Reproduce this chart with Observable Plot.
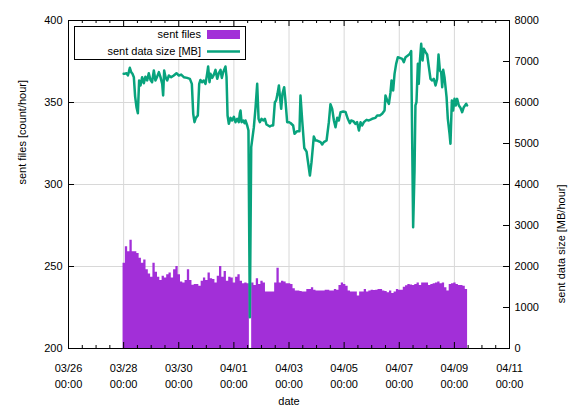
<!DOCTYPE html>
<html>
<head>
<meta charset="utf-8">
<script src="https://cdn.jsdelivr.net/npm/d3@7"></script>
<script src="https://cdn.jsdelivr.net/npm/@observablehq/plot@0.6"></script>
<style>
  html, body { margin: 0; padding: 0; background: white; }
</style>
</head>
<body>
<div id="chart"></div>
<script>
// ---- data -------------------------------------------------------------
// sent files per hour, 2-hour bins starting 2015-03-27 23:30 UTC (null = no data)
const barStart = "2015-03-27T23:30:00Z";
const barStepHours = 2;
const sentFiles = [
  252, 262, 259, 266, 259, 259, 258, 255, 252, 254,
  248, 245.5, 243.5, 252, 246.5, 243.5, 241.5, 244, 243, 245,
  246, 243, 248, 250, 245, 240.5, 240, 241.5, 248, 241.5,
  238.5, 239, 239, 238, 241, 243, 241.5, 246, 242.5, 242,
  240, 244, 250, 243.5, 247, 241, 243.5, 243, 240, 243.5,
  245, 241, 239.5, 240, 239.5, null, 240, 238.4, 242.5, 239,
  241, 240, 234.5, 234.5, 234.5, 234.5, 240, 249, 240, 241,
  240.5, 239.5, 239.5, 239, 236.5, 235, 235, 234.8, 234.5, 234.5,
  236, 236, 237, 235.5, 235, 235, 235, 235, 235.5, 235.5,
  235, 235, 236, 235.5, 238.4, 240, 239, 238, 235, 234.5,
  234.5, 234.5, 232, 234.5, 234.5, 236, 234.5, 235, 235.5, 235.3,
  235.5, 236, 236, 235, 234.7, 234, 235, 233.5, 234.5, 236,
  235.5, 235.5, 237.4, 238.3, 239, 238.7, 238.4, 239, 240, 238.4,
  240, 240, 240, 238.4, 239, 239.5, 240, 240.5, 239.5, 240,
  237, 235, 239, 239.5, 240, 239, 238.4, 238.4, 238, 236
];

// sent data size [MB/hour]: hours since 2015-03-28 00:00 UTC and value
const lineStart = "2015-03-28T00:00:00Z";
const sizeHours = [
  0, 0.75, 2.5, 3.7, 4.5, 5.4, 6.6, 7.7, 8.9, 10.0, 11.2, 12.4, 13.5, 14.7, 16.1, 17.6, 19.0, 20.5, 21.9, 23.4,
  24.8, 26.3, 27.7, 29.2, 30.7, 32.1, 33.6, 34.4, 35.3, 36.5, 37.9, 39.4, 41.4, 43.7, 46.0, 48.1, 50.1, 52.4, 55.3, 57.7,
  59.4, 60.6, 61.7, 62.9, 64.6, 65.8, 66.9, 68.4, 69.8, 71.3, 72.7, 73.6, 74.8, 75.7, 77.1, 78.6, 80.0, 81.5, 82.9, 84.4,
  85.5, 86.7, 88.7, 89.6, 90.5, 91.6, 93.1, 94.5, 96.0, 97.4, 98.9, 100.3, 101.2, 101.8, 102.7, 104.1, 105.3, 106.1, 107.6, 108.7,
  109.9, 111.1, 113.4, 114.9, 116.3, 117.5, 118.6, 120.1, 121.5, 123.0, 124.4, 125.9, 127.3, 128.8, 130.2, 131.7, 132.8, 134.0, 135.2, 136.3,
  137.2, 138.3, 139.8, 140.9, 142.4, 143.9, 145.3, 147.6, 148.8, 151.1, 153.1, 154.0, 155.5, 157.3, 159.3, 160.4, 162.2, 163.6, 165.6, 167.1,
  168.5, 171.5, 172.9, 174.3, 176.7, 178.7, 180.1, 181.6, 183.1, 184.5, 186.0, 187.4, 188.9, 191.2, 193.2, 195.2, 197.0, 198.1, 199.9, 201.9,
  203.3, 204.9, 206.3, 207.7, 209.2, 211.5, 213.5, 216.4, 219.3, 220.8, 223.1, 225.1, 227.2, 228.0, 229.5, 231.0, 232.4, 233.3, 234.7, 235.9,
  237.3, 238.8, 240.5, 242.6, 244.0, 245.5, 247.5, 249.2, 250.4, 252.1, 253.3, 254.1, 255.0, 256.2, 257.0, 257.9, 259.1, 260.3, 261.4, 262.9,
  264.3, 265.8, 267.2, 268.7, 270.1, 271.6, 273.0, 274.2, 275.4, 276.5, 277.4, 278.3, 279.4, 281.2, 282.3, 283.8, 284.6, 285.8, 286.9, 288.1,
  289.2, 290.4, 291.9, 293.3, 294.8, 296.2, 298.3, 299.1
];
const sizeMB = [
  6699, 6699, 6715, 6659, 6740, 6846, 6740, 6699, 6618, 6150, 5886, 5740, 6537, 6415, 6618, 6470, 6630, 6537, 6715, 6550,
  6496, 6780, 6537, 6630, 6740, 6618, 6455, 6171, 6780, 6618, 6537, 6659, 6618, 6659, 6715, 6659, 6680, 6618, 6600, 6577,
  6455, 5724, 5520, 5626, 5683, 6455, 6550, 6496, 6537, 6455, 6699, 6878, 6496, 6699, 6600, 6680, 6796, 6577, 6715, 6796,
  6600, 6740, 6878, 6618, 5683, 5480, 5626, 5561, 5650, 5520, 5602, 5520, 5740, 5805, 5520, 5561, 5496, 5561, 5439, 5317,
  763, 4911, 5398, 5886, 6455, 5602, 5520, 5602, 5561, 5602, 5463, 5439, 5415, 5439, 5439, 6008, 6049, 6211, 6415, 6089,
  5846, 6211, 6374, 6049, 5520, 5520, 5500, 5439, 5236, 5300, 5300, 6171, 5561, 4890, 4800, 4580, 4220, 4545, 5170, 5073,
  5073, 5033, 4976, 5033, 5073, 5520, 5960, 5846, 5561, 5398, 5626, 5561, 5764, 5780, 5770, 5602, 5496, 5561, 5545, 5480,
  5520, 5317, 5520, 5439, 5520, 5577, 5561, 5602, 5626, 5683, 5683, 5724, 5805, 6171, 6049, 5967, 6252, 6537, 6293, 6699,
  6943, 7106, 7090, 7065, 6984, 7106, 7146, 7187, 7252, 2959, 4341, 5927, 6008, 6943, 6455, 6984, 7431, 7024, 7309, 7228,
  7171, 6862, 6577, 6537, 6577, 6415, 6577, 7171, 6780, 6740, 6374, 6796, 6618, 6130, 5602, 5236, 4992, 6049, 5805, 6089,
  5927, 6089, 5927, 5870, 5764, 5886, 5967, 5927
];

// axes
const xDomain = ["2015-03-26T00:00:00Z", "2015-04-11T00:00:00Z"];
const xMajorStepDays = 2;
const xMinorStepHours = 12;
const leftTicks = [200, 250, 300, 350, 400];
const rightTicksMB = [0, 1000, 2000, 3000, 4000, 5000, 6000, 7000, 8000];
const rightMax = 8000;
const legendLabels = ["sent files", "sent data size [MB]"];

// ---- build ------------------------------------------------------------
const purple = "#a22fd8";
const green = "#08a37d";
const HOUR = 3600e3;
const x0 = new Date(xDomain[0]), x1 = new Date(xDomain[1]);
const yMin = 200, yMax = 400;
const toLeft = mb => yMin + mb / rightMax * (yMax - yMin);

// bars as a stepped area (one path, no seams); null bins break the area
const bStart = new Date(barStart).getTime();
const barPts = [];
sentFiles.forEach((v, i) => {
  const a = new Date(bStart + i * barStepHours * HOUR);
  const b = new Date(bStart + (i + 1) * barStepHours * HOUR);
  barPts.push({ t: a, v }, { t: b, v });
});

const lStart = new Date(lineStart).getTime();
const sizeData = sizeHours.map((h, i) => ({ t: new Date(lStart + h * HOUR), mb: sizeMB[i] }));

const spanH = (x1 - x0) / HOUR;
const majorX = d3.range(0, spanH + 1, xMajorStepDays * 24).map(h => new Date(+x0 + h * HOUR));
const innerMajorX = majorX.slice(1, -1);
const minorX = d3.range(0, spanH + 1, xMinorStepHours)
  .filter(h => h % (xMajorStepDays * 24) !== 0)
  .map(h => new Date(+x0 + h * HOUR));

const W = 569, H = 410, mL = 68, mR = 60, mT = 20, mB = 62;
const pw = W - mL - mR, ph = H - mT - mB;
const fmt = d3.utcFormat("%m/%d\n%H:%M");
const font = "'Liberation Sans', Arial, Helvetica, sans-serif";

const chart = Plot.plot({
  width: W, height: H,
  marginLeft: mL, marginRight: mR, marginTop: mT, marginBottom: mB,
  style: { fontFamily: font, fontSize: "11px", background: "white", color: "black" },
  x: { type: "utc", domain: [x0, x1], axis: null },
  y: { domain: [yMin, yMax] },
  marks: [
    Plot.ruleX(innerMajorX, { stroke: "#d8d8d8", strokeWidth: 1 }),
    Plot.ruleY([250, 300, 350], { stroke: "#d8d8d8", strokeWidth: 1 }),
    Plot.areaY(barPts, { x: "t", y1: yMin, y2: "v", fill: purple, curve: "linear" }),
    Plot.line(sizeData, { x: "t", y: d => toLeft(d.mb), stroke: green, strokeWidth: 2.5, strokeLinejoin: "round" }),
    // tick marks (gnuplot style, inward)
    Plot.ruleX(majorX, { insetTop: ph - 6, stroke: "black" }),
    Plot.ruleX(minorX, { insetTop: ph - 3, stroke: "black" }),
    Plot.ruleX(majorX, { insetBottom: ph - 6, stroke: "black" }),
    Plot.ruleX(minorX, { insetBottom: ph - 3, stroke: "black" }),
    Plot.ruleY(rightTicksMB.map(toLeft), { insetLeft: pw - 6, stroke: "black" }),
    Plot.ruleY(leftTicks, { insetRight: pw - 6, stroke: "black" }),
    Plot.frame({ stroke: "black", strokeWidth: 1 }),
    // axes labels
    Plot.axisY(leftTicks, { anchor: "left", tickSize: 0, tickPadding: 6, label: null }),
    Plot.axisY(rightTicksMB.map(toLeft), { anchor: "right", tickSize: 0, tickPadding: 5, label: null,
      tickFormat: d => String(Math.round((d - yMin) / (yMax - yMin) * rightMax)) }),
    Plot.text(majorX, { x: d => d, text: d => fmt(d), frameAnchor: "bottom", lineAnchor: "top",
      dy: 12, lineHeight: 1.45, fill: "black" }),
    Plot.text(["date"], { frameAnchor: "bottom", dy: 56, fill: "black" }),
    Plot.text(["sent files [count/hour]"], { frameAnchor: "left", dx: -46, rotate: -90, fill: "black" }),
    Plot.text(["sent data size [MB/hour]"], { frameAnchor: "right", dx: 52, rotate: -90, fill: "black" })
  ]
});

// legend (inside plot area, opaque box)
const svg = d3.select(chart);
const g = svg.append("g").attr("font-family", font).attr("font-size", 11);
g.append("rect").attr("x", 74.5).attr("y", 26.5).attr("width", 171).attr("height", 33)
  .attr("fill", "white").attr("stroke", "black");
g.append("text").attr("x", 201).attr("y", 34.5).attr("dy", "0.35em").attr("text-anchor", "end").text(legendLabels[0]);
g.append("rect").attr("x", 207).attr("y", 30).attr("width", 33).attr("height", 9).attr("fill", purple);
g.append("text").attr("x", 201).attr("y", 51.5).attr("dy", "0.35em").attr("text-anchor", "end").text(legendLabels[1]);
g.append("line").attr("x1", 207).attr("x2", 240).attr("y1", 51.5).attr("y2", 51.5)
  .attr("stroke", green).attr("stroke-width", 2.5);

document.getElementById("chart").appendChild(chart);
</script>
</body>
</html>
